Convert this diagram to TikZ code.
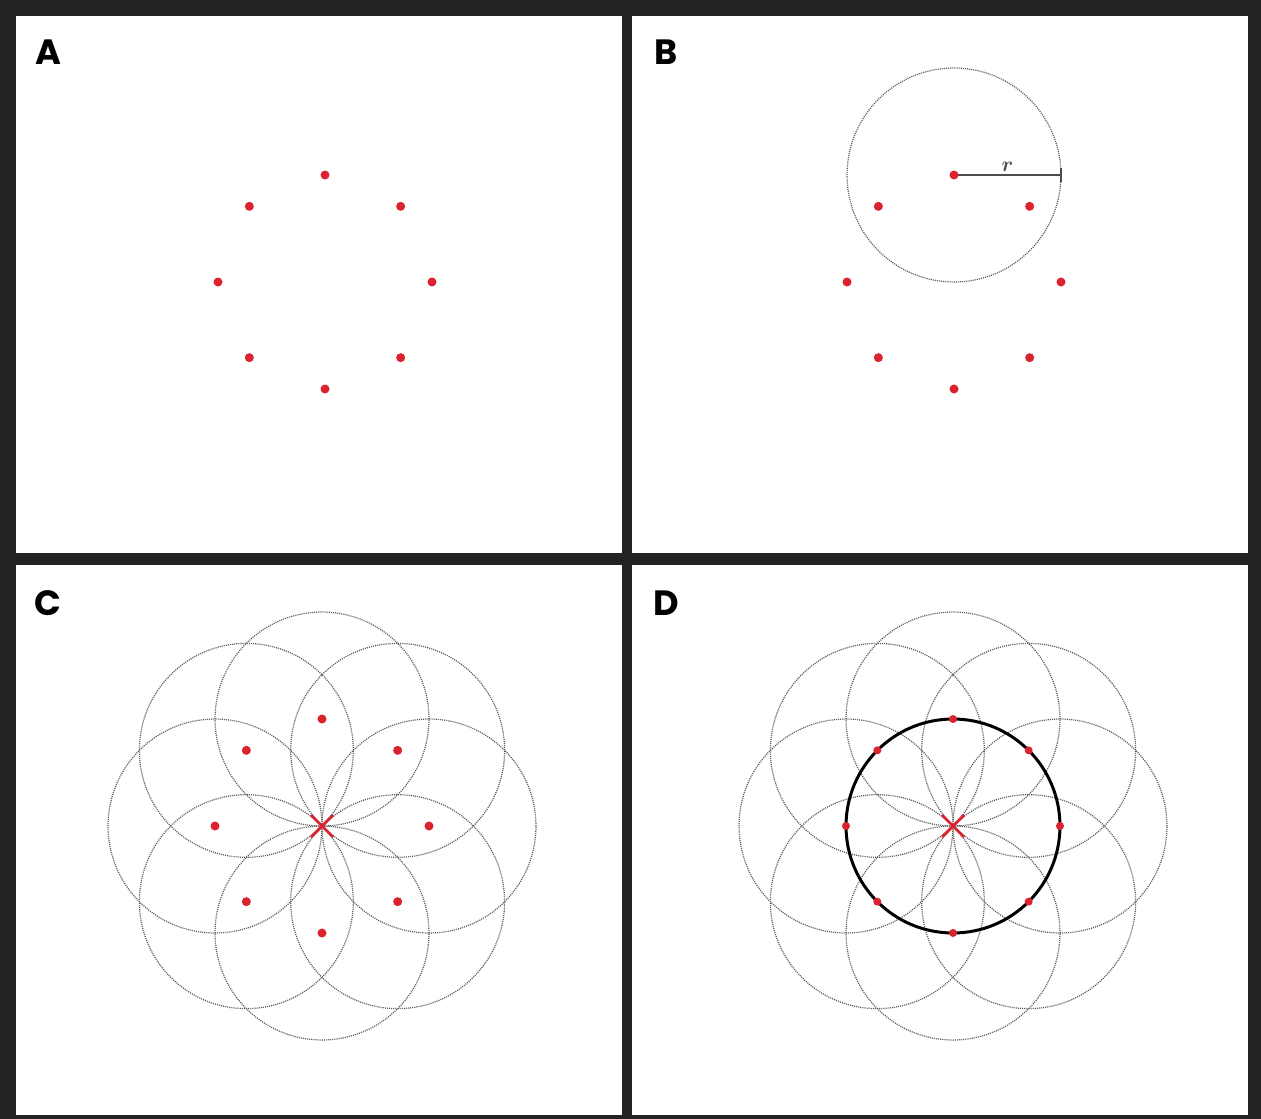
\documentclass[tikz,border=0pt]{standalone}
\usepackage{amsmath}
\usepackage{fontspec}
\newfontfamily\panelfont{Poppins}
\usetikzlibrary{calc}
\definecolor{framegray}{HTML}{222222}
\definecolor{dotred}{HTML}{DB2330}
\tikzset{
  guide/.style={black!65, line width=0.7pt, dash pattern=on 0.6pt off 0.6pt},
  ptdot/.style={fill=dotred},
  panellabel/.style={font=\panelfont\bfseries\fontsize{20}{24}\selectfont, text=black},
}
\begin{document}
\begin{tikzpicture}[x=0.02cm,y=-0.02cm]
        % Frame and the four panels
        \fill[framegray] (0,0) rectangle (1261,1119);
        \fill[white] (16,16) rectangle (622,553);     % A
        \fill[white] (632,16) rectangle (1248,553);   % B
        \fill[white] (16,565) rectangle (622,1115);   % C
        \fill[white] (632,565) rectangle (1248,1115); % D
        \node[panellabel] (labA) at (48,52) {A};
        \node[panellabel] (labB) at (666,52) {B};
        \node[panellabel] (labC) at (48,603) {C};
        \node[panellabel] (labD) at (666,603) {D};
        % Centres of the octagons
        \coordinate (cA) at (325,282);
        \coordinate (cB) at (954,282);
        \coordinate (cC) at (322,826);
        \coordinate (cD) at (953,826);
        \foreach \p in {A,B,C,D}
          \foreach \i in {0,...,7}
            \coordinate (\p\i) at ($(c\p)+(45*\i:107)$);
        % A: eight points
        \foreach \i in {0,...,7}
          \fill[ptdot] (A\i) circle[radius=0.09cm];
        % B: one circle of radius r about the top point
        \draw[guide] (B6) circle[radius=2.14cm];
        \draw[black!70, line width=1.2pt] (B6) -- ++(107,0) coordinate (rend)
          node[midway, above=-2pt, font=\fontsize{13}{14}\selectfont] (rlab) {$\boldsymbol{r}$};
        \draw[black!70, line width=1.2pt] (rend) ++(0,-7) -- ++(0,14);
        \foreach \i in {0,...,7}
          \fill[ptdot] (B\i) circle[radius=0.09cm];
        % C: a circle about every point
        \foreach \i in {0,...,7}
          \draw[guide] (C\i) circle[radius=2.14cm];
        \foreach \i in {0,...,7}
          \fill[ptdot] (C\i) circle[radius=0.09cm];
        \draw[dotred, line width=1.6pt] ($(cC)+(-11,-11)$) -- ($(cC)+(11,11)$);
        \draw[dotred, line width=1.6pt] ($(cC)+(-11,11)$) -- ($(cC)+(11,-11)$);
        % D: the circle through the points
        \foreach \i in {0,...,7}
          \draw[guide] (D\i) circle[radius=2.14cm];
        \draw[black, line width=1.7pt] (cD) circle[radius=2.14cm];
        \foreach \i in {0,...,7}
          \fill[ptdot] (D\i) circle[radius=0.08cm];
        \draw[dotred, line width=1.6pt] ($(cD)+(-11,-11)$) -- ($(cD)+(11,11)$);
        \draw[dotred, line width=1.6pt] ($(cD)+(-11,11)$) -- ($(cD)+(11,-11)$);
      \end{tikzpicture}
\end{document}
